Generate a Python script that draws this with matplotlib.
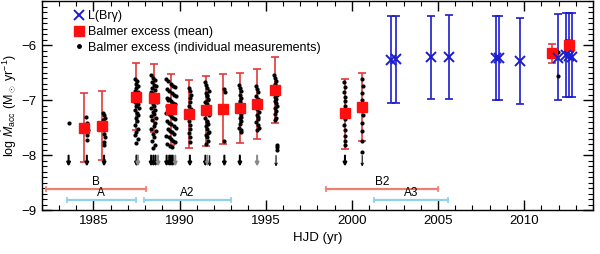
import numpy as np
import matplotlib
matplotlib.use('Agg')
import matplotlib.pyplot as plt

plt.rcParams['font.family'] = ['Liberation Sans', 'DejaVu Sans']
plt.rcParams['mathtext.fontset'] = 'custom'
plt.rcParams['mathtext.rm'] = 'Liberation Sans'
plt.rcParams['mathtext.it'] = 'Liberation Sans:italic'

# L(Br gamma) accretion rates
brg_year = [2002.30, 2002.55, 2004.58, 2005.62, 2008.37, 2008.51, 2009.75, 2011.98, 2012.45, 2012.58, 2012.75]
brg_val = [-6.27, -6.26, -6.22, -6.22, -6.24, -6.24, -6.29, -6.23, -6.18, -6.20, -6.21]
brg_top = [-5.48, -5.48, -5.47, -5.46, -5.48, -5.48, -5.51, -5.44, -5.41, -5.42, -5.42]
brg_bot = [-7.05, -7.05, -6.99, -6.99, -7.00, -7.00, -7.08, -7.00, -6.94, -6.94, -6.95]

# Balmer excess, seasonal means
mean_year = [1984.48, 1985.50, 1987.50, 1988.50, 1989.48, 1990.52, 1991.54, 1992.54,
             1993.52, 1994.52, 1995.54, 1999.58, 2000.58, 2011.64, 2012.60]
mean_val = [-7.50, -7.47, -6.94, -6.96, -7.16, -7.25, -7.19, -7.16,
            -7.15, -7.07, -6.82, -7.24, -7.12, -6.15, -6.00]
mean_top = [-6.88, -6.84, -6.33, -6.35, -6.52, -6.64, -6.56, -6.53,
            -6.50, -6.44, -6.21, -6.61, -6.50, -5.98, -5.91]
mean_bot = [-8.12, -8.09, -7.55, -7.58, -7.81, -7.88, -7.83, -7.80,
            -7.79, -7.70, -7.41, -7.89, -7.74, -6.33, -6.10]

# Balmer excess, individual measurements (per season)
ind_year = (
    [1983.56]
    + [1984.55, 1984.62, 1984.66, 1984.60, 1984.64]
    + [1985.55, 1985.60, 1985.65, 1985.58, 1985.62, 1985.68, 1985.57, 1985.63, 1985.60, 1985.66, 1985.59, 1985.64]
    + [1987.40, 1987.55, 1987.45, 1987.60, 1987.50, 1987.42, 1987.58, 1987.48, 1987.62, 1987.44, 1987.53, 1987.40, 1987.57,
       1987.47, 1987.63, 1987.43, 1987.52, 1987.59, 1987.46, 1987.55, 1987.41, 1987.60, 1987.50, 1987.44, 1987.56, 1987.48]
    + [1988.32, 1988.45, 1988.58, 1988.38, 1988.52, 1988.65, 1988.42, 1988.55, 1988.35, 1988.48, 1988.62, 1988.40,
       1988.56, 1988.68, 1988.44, 1988.50, 1988.33, 1988.60, 1988.46, 1988.54, 1988.37, 1988.64, 1988.43, 1988.57,
       1988.49, 1988.36, 1988.61, 1988.45, 1988.53, 1988.40, 1988.58, 1988.47]
    + [1989.22, 1989.35, 1989.48, 1989.60, 1989.72, 1989.28, 1989.41, 1989.55, 1989.66, 1989.78, 1989.25, 1989.38,
       1989.51, 1989.63, 1989.75, 1989.30, 1989.44, 1989.57, 1989.69, 1989.23, 1989.36, 1989.49, 1989.61, 1989.73,
       1989.27, 1989.40, 1989.53, 1989.65, 1989.77, 1989.32, 1989.46, 1989.58, 1989.70, 1989.24, 1989.37, 1989.50,
       1989.62, 1989.74, 1989.29, 1989.43, 1989.56, 1989.68, 1989.34, 1989.52]
    + [1990.55, 1990.60, 1990.65, 1990.58, 1990.62, 1990.56, 1990.64, 1990.59, 1990.61, 1990.57, 1990.63, 1990.60,
       1990.55, 1990.62, 1990.58]
    + [1991.48, 1991.55, 1991.62, 1991.70, 1991.52, 1991.58, 1991.66, 1991.50, 1991.60, 1991.68, 1991.54, 1991.63,
       1991.72, 1991.49, 1991.57, 1991.65, 1991.53, 1991.61, 1991.69, 1991.51, 1991.59, 1991.67, 1991.56, 1991.64,
       1991.50, 1991.60, 1991.58, 1991.66]
    + [1992.58, 1992.62, 1992.60]
    + [1993.45, 1993.52, 1993.58, 1993.48, 1993.55, 1993.50, 1993.57, 1993.46, 1993.53, 1993.59, 1993.49, 1993.56,
       1993.51, 1993.47, 1993.54, 1993.58, 1993.50, 1993.55]
    + [1994.42, 1994.50, 1994.58, 1994.46, 1994.54, 1994.62, 1994.44, 1994.52, 1994.60, 1994.48, 1994.56, 1994.45,
       1994.53, 1994.59, 1994.49, 1994.57, 1994.47, 1994.55]
    + [1995.50, 1995.56, 1995.62, 1995.53, 1995.59, 1995.65, 1995.51, 1995.57, 1995.63, 1995.54, 1995.60, 1995.52,
       1995.58, 1995.64, 1995.55, 1995.61, 1995.53, 1995.59, 1995.56, 1995.62, 1995.64, 1995.64, 1995.64]
    + [1999.55, 1999.60, 1999.57, 1999.62, 1999.58, 1999.61, 1999.56, 1999.59, 1999.63, 1999.57, 1999.60, 1999.62,
       1999.58, 1999.61]
    + [2000.60, 2000.62, 2000.59, 2000.61, 2000.60, 2000.62, 2000.59, 2000.61, 2000.60, 2000.60]
    + [2011.95, 2011.95, 2012.45]
)
ind_val = (
    [-7.41]
    + [-7.30, -7.42, -7.55, -7.63, -7.72]
    + [-7.24, -7.28, -7.32, -7.36, -7.40, -7.45, -7.50, -7.55, -7.62, -7.68, -7.76, -7.82]
    + [-6.62, -6.66, -6.71, -6.74, -6.78, -6.83, -6.86, -6.90, -6.93, -6.97, -7.00, -7.04, -7.07,
       -7.11, -7.15, -7.19, -7.23, -7.28, -7.33, -7.38, -7.45, -7.52, -7.58, -7.63, -7.70, -7.79]
    + [-6.55, -6.60, -6.64, -6.68, -6.72, -6.75, -6.79, -6.82, -6.86, -6.89, -6.93, -6.96,
       -7.00, -7.03, -7.07, -7.10, -7.14, -7.18, -7.21, -7.25, -7.29, -7.33, -7.37, -7.42,
       -7.47, -7.52, -7.56, -7.62, -7.68, -7.74, -7.82, -7.88]
    + [-6.62, -6.66, -6.70, -6.74, -6.77, -6.80, -6.84, -6.87, -6.90, -6.93, -6.96, -6.99,
       -7.02, -7.05, -7.08, -7.11, -7.14, -7.17, -7.20, -7.23, -7.26, -7.29, -7.32, -7.35,
       -7.38, -7.41, -7.44, -7.47, -7.50, -7.53, -7.56, -7.59, -7.62, -7.65, -7.68, -7.71,
       -7.74, -7.77, -7.80, -7.83, -7.86, -7.10, -7.00, -7.20]
    + [-6.78, -6.84, -6.90, -6.97, -7.04, -7.10, -7.17, -7.24, -7.31, -7.38, -7.45, -7.53,
       -7.60, -7.68, -7.76]
    + [-6.68, -6.73, -6.78, -6.83, -6.88, -6.93, -6.98, -7.03, -7.08, -7.13, -7.18, -7.23,
       -7.28, -7.33, -7.38, -7.43, -7.48, -7.53, -7.58, -7.63, -7.68, -7.74, -7.80, -7.00,
       -7.20, -7.40, -6.90, -7.60]
    + [-6.80, -6.86, -7.74]
    + [-6.72, -6.78, -6.84, -6.90, -6.96, -7.02, -7.08, -7.14, -7.20, -7.26, -7.32, -7.38,
       -7.44, -7.50, -7.55, -7.58, -7.05, -7.30]
    + [-6.75, -6.80, -6.86, -6.92, -6.98, -7.04, -7.10, -7.16, -7.22, -7.28, -7.34, -7.40,
       -7.45, -7.50, -7.55, -7.15, -7.00, -7.30]
    + [-6.55, -6.60, -6.65, -6.70, -6.74, -6.78, -6.82, -6.86, -6.90, -6.94, -6.98, -7.02,
       -7.06, -7.10, -7.15, -7.20, -7.26, -7.32, -7.36, -6.88, -7.82, -7.86, -7.90]
    + [-6.67, -6.76, -6.85, -6.94, -7.02, -7.10, -7.18, -7.26, -7.35, -7.45, -7.55, -7.66,
       -7.74, -7.82]
    + [-6.62, -6.75, -6.88, -7.00, -7.13, -7.27, -7.41, -7.57, -7.75, -7.94]
    + [-6.12, -6.56, -5.92]
)

# upper limits (black, grey and thin arrows)
lim_year = [1983.56, 1984.62, 1985.62, 1987.50, 1988.35, 1988.48, 1988.60, 1989.25, 1989.40,
            1989.50, 1989.60, 1990.60, 1991.50, 1992.60, 1993.50, 1999.60]
grey_lim_year = [1987.58, 1988.75, 1989.75, 1991.62, 1994.50]
thin_lim_year = [1991.75, 1995.60, 2000.60]

# observing epochs
epoch_name = ['B', 'A', 'A2', 'B2', 'A3']
epoch_start = [1982.27, 1983.46, 1987.94, 1998.52, 2001.31]
epoch_end = [1988.04, 1987.46, 1992.99, 2004.97, 2005.58]
epoch_level = [-8.62, -8.82, -8.82, -8.62, -8.82]
epoch_color = ['#f07f72', '#8fd0ea', '#8fd0ea', '#f07f72', '#8fd0ea']

fig = plt.figure(figsize=(6.0, 2.54), dpi=100)
ax = fig.add_axes([0.0695, 0.173, 0.919, 0.823])

# epochs
for name, x0, x1, lev, c in zip(epoch_name, epoch_start, epoch_end, epoch_level, epoch_color):
    ax.plot([x0, x1], [lev, lev], color=c, lw=1.6, marker='|', ms=5, mew=1.2)
    ax.text((x0 + x1) / 2, lev + 0.015, name, ha='center', va='bottom', fontsize=8.5)

# upper limits
def down_arrow(yr, color, lw, style, scale):
    ax.annotate('', xy=(yr, -8.21), xytext=(yr, -8.01),
                arrowprops=dict(arrowstyle=style, color=color, lw=lw, mutation_scale=scale,
                                shrinkA=0, shrinkB=0))

for yr in lim_year:
    down_arrow(yr, 'black', 1.5, '-|>', 5)
for yr in grey_lim_year:
    down_arrow(yr, '#8a8a8a', 1.5, '-|>', 5)
for yr in thin_lim_year:
    down_arrow(yr, 'black', 0.8, '->', 4)

# individual Balmer measurements
ax.plot(ind_year, ind_val, 'o', color='black', ms=2.0, ls='none', zorder=3)

# Balmer means
mv = np.array(mean_val)
ax.errorbar(mean_year, mean_val, yerr=[mv - np.array(mean_bot), np.array(mean_top) - mv],
            fmt='none', ecolor='#e03a3a', elinewidth=1.2, capsize=3, capthick=1.2, zorder=2)
ax.plot(mean_year, mean_val, 's', color='#ff1010', ms=6.5, ls='none', zorder=4)

# Br gamma
bv = np.array(brg_val)
ax.errorbar(brg_year, brg_val, yerr=[bv - np.array(brg_bot), np.array(brg_top) - bv],
            fmt='none', ecolor='#1c1cd0', elinewidth=1.2, capsize=3, capthick=1.2, zorder=2)
ax.plot(brg_year, brg_val, 'x', color='#1c1cd0', ms=7, mew=1.4, ls='none', zorder=5)

# legend handles
h1, = ax.plot([], [], 'x', color='#1c1cd0', ms=7, mew=1.4, ls='none')
h2, = ax.plot([], [], 's', color='#ff1010', ms=7, ls='none')
h3, = ax.plot([], [], 'o', color='black', ms=2.5, ls='none')
ax.legend([h1, h2, h3], ['L(Br\u03b3)', 'Balmer excess (mean)', 'Balmer excess (individual measurements)'],
          loc='upper left', frameon=False, fontsize=9, handletextpad=0.1, labelspacing=0.3,
          borderaxespad=0.0, bbox_to_anchor=(0.045, 0.98), handlelength=1.2)

ax.set_xlim(1982.0, 2014.0)
ax.set_ylim(-9.0, -5.2)
ax.set_xticks([1985, 1990, 1995, 2000, 2005, 2010])
ax.set_xticks(np.arange(1982, 2015), minor=True)
ax.set_yticks([-9, -8, -7, -6])
ax.set_yticks(np.arange(-9.0, -5.15, 0.1), minor=True)
ax.tick_params(which='both', direction='in', top=True, right=True, labelsize=9.5)
ax.tick_params(which='major', length=7, width=1)
ax.tick_params(which='minor', length=3.5, width=0.8)
ax.set_xlabel('HJD (yr)', fontsize=9.5, labelpad=4)
ax.set_ylabel(r'log $\dot{M}_{\rm acc}$ (M$_\odot$ yr$^{-1}$)', fontsize=9, labelpad=2)
for s in ax.spines.values():
    s.set_linewidth(1.0)

fig.savefig('out.png', dpi=100)
